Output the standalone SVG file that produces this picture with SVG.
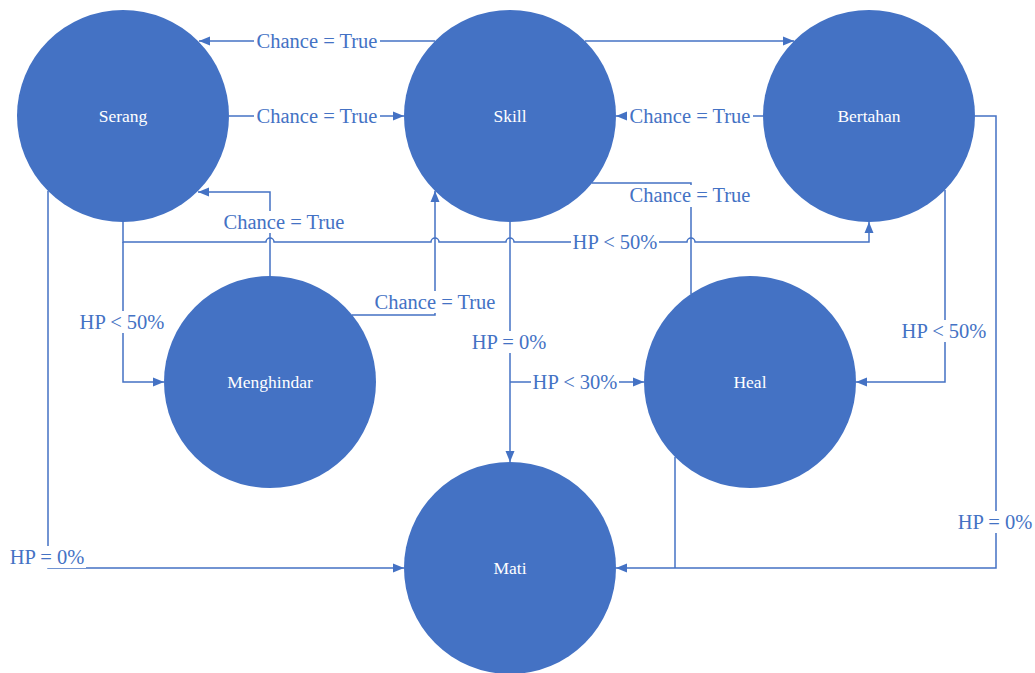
<svg xmlns="http://www.w3.org/2000/svg" width="1035" height="673" viewBox="0 0 1035 673">
  <style>
    .node { fill: #4472C4; }
    .nlabel { font-family: 'Liberation Serif', 'Times New Roman', serif; font-size: 17.5px; fill: #FFFFFF; text-anchor: middle; }
    .edge { fill: none; stroke: #4472C4; stroke-width: 1.5; }
    .elabel { font-family: 'Liberation Serif', 'Times New Roman', serif; font-size: 20.5px; fill: #4472C4; text-anchor: middle; }
    .lbg { fill: #FFFFFF; }
  </style>
  <defs>
    <marker id="arrow" markerUnits="userSpaceOnUse" markerWidth="12" markerHeight="12" viewBox="0 0 12 12" refX="11" refY="6" orient="auto">
      <path d="M0,1.5 L11,6 L0,10.5 Z" fill="#4472C4"/>
    </marker>
  </defs>
  <rect width="1035" height="673" fill="#FFFFFF"/>

  <!-- connectors -->
  <g id="connectors">
    <!-- Skill -> Serang (top) -->
    <path class="edge" d="M435,41 H199" marker-end="url(#arrow)"/>
    <!-- Serang -> Skill -->
    <path class="edge" d="M229,116 H404" marker-end="url(#arrow)"/>
    <!-- Skill -> Bertahan -->
    <path class="edge" d="M585,41 H794" marker-end="url(#arrow)"/>
    <!-- Bertahan -> Skill -->
    <path class="edge" d="M763,116 H616" marker-end="url(#arrow)"/>
    <!-- Heal - Skill -->
    <path class="edge" d="M592,183 H691 V294"/>
    <!-- Menghindar -> Serang -->
    <path class="edge" d="M270,277 V192 H198" marker-end="url(#arrow)"/>
    <!-- Menghindar -> Skill -->
    <path class="edge" d="M352,315 H435 V191" marker-end="url(#arrow)"/>
    <!-- Serang -> Bertahan (with line hops) -->
    <path class="edge" d="M123,222 V242 H266 A4,4 0 0 1 274,242 H431 A4,4 0 0 1 439,242 H506 A4,4 0 0 1 514,242 H687 A4,4 0 0 1 695,242 H869 V222" marker-end="url(#arrow)"/>
    <!-- Serang -> Menghindar -->
    <path class="edge" d="M123,242 V382 H164" marker-end="url(#arrow)"/>
    <!-- Serang -> Mati -->
    <path class="edge" d="M48,191 V568 H404" marker-end="url(#arrow)"/>
    <!-- Skill -> Mati -->
    <path class="edge" d="M510,222 V462" marker-end="url(#arrow)"/>
    <!-- Skill -> Heal -->
    <path class="edge" d="M510,382 H644" marker-end="url(#arrow)"/>
    <!-- Bertahan -> Heal -->
    <path class="edge" d="M945,190 V382 H856" marker-end="url(#arrow)"/>
    <!-- Bertahan -> Mati -->
    <path class="edge" d="M975,116 H996 V568 H616" marker-end="url(#arrow)"/>
    <!-- Heal -> Mati -->
    <path class="edge" d="M675,457 V568"/>

    <!-- edge labels -->
    <g id="edge-labels">
      <rect class="lbg" x="254" y="30" width="126" height="22"/>
      <text class="elabel" x="317" y="48">Chance = True</text>
      <rect class="lbg" x="254" y="105" width="126" height="22"/>
      <text class="elabel" x="317" y="123">Chance = True</text>
      <rect class="lbg" x="627" y="105" width="126" height="22"/>
      <text class="elabel" x="690" y="123">Chance = True</text>
      <rect class="lbg" x="627" y="185" width="126" height="22"/>
      <text class="elabel" x="690" y="202">Chance = True</text>
      <rect class="lbg" x="221" y="211" width="126" height="22"/>
      <text class="elabel" x="284" y="229">Chance = True</text>
      <rect class="lbg" x="372" y="291" width="126" height="22"/>
      <text class="elabel" x="435" y="309">Chance = True</text>
      <rect class="lbg" x="571" y="231" width="88" height="22"/>
      <text class="elabel" x="615" y="249">HP &lt; 50%</text>
      <rect class="lbg" x="78" y="311" width="88" height="22"/>
      <text class="elabel" x="122" y="329">HP &lt; 50%</text>
      <rect class="lbg" x="900" y="320" width="88" height="22"/>
      <text class="elabel" x="944" y="338">HP &lt; 50%</text>
      <rect class="lbg" x="531" y="371" width="88" height="22"/>
      <text class="elabel" x="575" y="389">HP &lt; 30%</text>
      <rect class="lbg" x="470" y="331" width="78" height="22"/>
      <text class="elabel" x="509" y="349">HP = 0%</text>
      <rect class="lbg" x="8" y="546" width="78" height="22"/>
      <text class="elabel" x="47" y="564">HP = 0%</text>
      <rect class="lbg" x="956" y="511" width="78" height="22"/>
      <text class="elabel" x="995" y="529">HP = 0%</text>
    </g>
  </g>

  <!-- nodes -->
  <g id="node-serang">
    <circle class="node" cx="123" cy="116" r="106"/>
    <text class="nlabel" x="123" y="122">Serang</text>
  </g>
  <g id="node-skill">
    <circle class="node" cx="510" cy="116" r="106"/>
    <text class="nlabel" x="510" y="122">Skill</text>
  </g>
  <g id="node-bertahan">
    <circle class="node" cx="869" cy="116" r="106"/>
    <text class="nlabel" x="869" y="122">Bertahan</text>
  </g>
  <g id="node-menghindar">
    <circle class="node" cx="270" cy="382" r="106"/>
    <text class="nlabel" x="270" y="388">Menghindar</text>
  </g>
  <g id="node-heal">
    <circle class="node" cx="750" cy="382" r="106"/>
    <text class="nlabel" x="750" y="388">Heal</text>
  </g>
  <g id="node-mati">
    <circle class="node" cx="510" cy="568" r="106"/>
    <text class="nlabel" x="510" y="574">Mati</text>
  </g>
</svg>
